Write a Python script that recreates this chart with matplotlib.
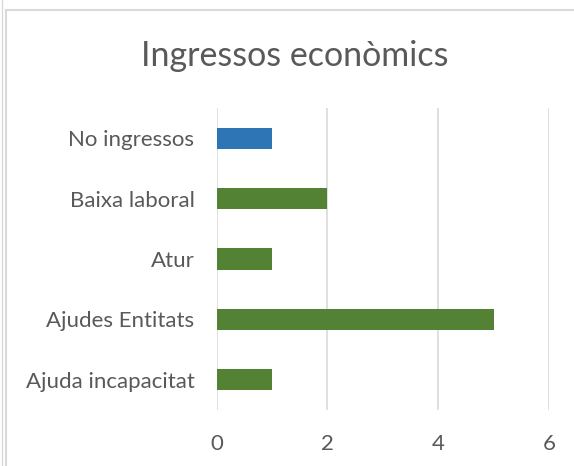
import matplotlib.pyplot as plt
from matplotlib.lines import Line2D

# data (top to bottom as shown)
categories = ['No ingressos', 'Baixa laboral', 'Atur', 'Ajudes Entitats', 'Ajuda incapacitat']
values = [1, 2, 1, 5, 1]
bar_colors = ['#2E75B6', '#548235', '#548235', '#548235', '#548235']
xticks = [0, 2, 4, 6]

plt.rcParams['font.family'] = ['Lato', 'DejaVu Sans']

W, H = 574, 466
fig = plt.figure(figsize=(W / 100, H / 100), dpi=100)
ax = fig.add_axes([216.7 / W, 1 - 410 / H, (549 - 216.7) / W, (410 - 108) / H])

ypos = list(range(len(categories)))
ax.barh(ypos, values, height=0.35, color=bar_colors, zorder=3)
ax.set_ylim(len(categories) - 0.5, -0.5)
ax.set_xlim(0, 6)
ax.set_xticks(xticks)
ax.set_yticks(ypos)
ax.set_yticklabels(categories)
ax.xaxis.grid(True, color='#D9D9D9', linewidth=1.2, zorder=0)
for s in ax.spines.values():
    s.set_visible(False)
ax.tick_params(length=0, labelsize=16, colors='#595959')
ax.tick_params(axis='x', pad=17)
ax.tick_params(axis='y', pad=16)

fig.text(295 / W, 1 - 56 / H, 'Ingressos econòmics', ha='center', va='center',
         fontsize=24.5, color='#595959')

# chart frame (only top/left visible in the crop)
fig.add_artist(Line2D([6 / W, 1], [1 - 10 / H, 1 - 10 / H], color='#D9D9D9', lw=1.5))
fig.add_artist(Line2D([6 / W, 6 / W], [0, 1 - 10 / H], color='#D9D9D9', lw=1.5))
fig.add_artist(Line2D([1.5 / W, 1.5 / W], [0, 1], color='#D9D9D9', lw=1))

fig.savefig('out.png', dpi=100)
